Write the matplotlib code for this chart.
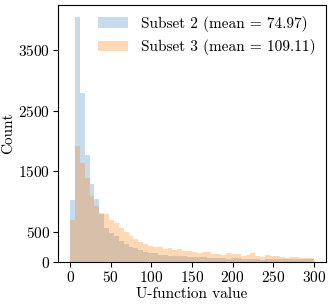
import numpy as np
import matplotlib
matplotlib.use("Agg")
import matplotlib.pyplot as plt

# histogram of U-function values, 50 bins of width 6 between 0 and 300
bin_edges = np.linspace(0, 300, 51)

subset2_counts = [1025, 4050, 2790, 1765, 1290, 1045, 790, 565, 480, 436,
                  358, 300, 260, 232, 204, 176, 160, 158, 121, 121,
                  110, 110, 105, 105, 93, 93, 90, 88, 77, 77,
                  77, 66, 55, 77, 70, 60, 62, 60, 58, 44,
                  60, 58, 55, 55, 60, 58, 55, 58, 55, 55]
subset3_counts = [705, 1925, 1640, 1391, 1095, 938, 811, 800, 700, 650,
                  570, 500, 430, 380, 330, 300, 270, 250, 250, 215,
                  232, 199, 220, 187, 187, 165, 154, 176, 165, 143,
                  132, 121, 154, 143, 132, 110, 121, 149, 110, 88,
                  121, 110, 99, 88, 77, 88, 88, 77, 77, 77]

labels = ["Subset 2 (mean = 74.97)", "Subset 3 (mean = 109.11)"]
yticks = [0, 500, 1500, 2500, 3500]

plt.rcParams["font.family"] = "serif"
plt.rcParams["font.serif"] = ["cmr10"]
plt.rcParams["mathtext.fontset"] = "cm"
plt.rcParams["axes.formatter.use_mathtext"] = True
plt.rcParams["font.size"] = 11

fig = plt.figure(figsize=(3.33, 3.05), dpi=100)
ax = fig.add_axes([0.174, 0.14, 0.805, 0.844])

centers = (bin_edges[:-1] + bin_edges[1:]) / 2
ax.hist(centers, bins=bin_edges, weights=subset2_counts,
        color="tab:blue", alpha=0.25, label=labels[0])
ax.hist(centers, bins=bin_edges, weights=subset3_counts,
        color="tab:orange", alpha=0.3, label=labels[1])

ax.set_xticks(np.arange(0, 301, 50))
ax.set_yticks(yticks)
ax.set_xlabel("U-function value", labelpad=2)
ax.set_ylabel("Count", labelpad=2)
ax.tick_params(length=3.5, width=0.8, pad=2)

ax.legend(loc="upper right", frameon=False, borderaxespad=0.3,
          handlelength=2.0, labelspacing=0.5)

fig.savefig("out.png", dpi=100)
